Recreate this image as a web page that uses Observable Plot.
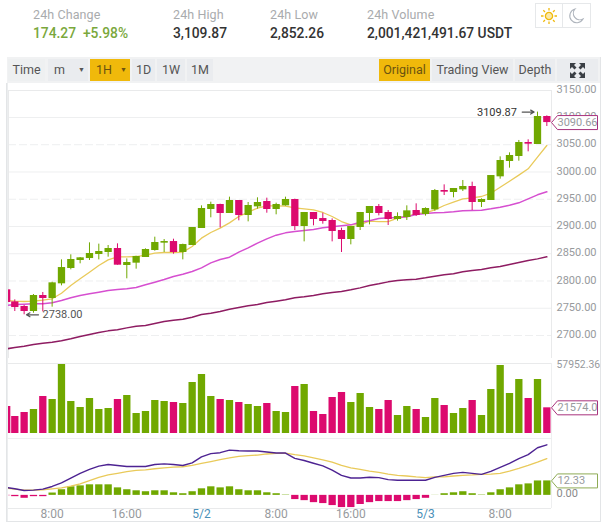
<!DOCTYPE html>
<html>
<head>
<meta charset="utf-8">
<script src="https://cdn.jsdelivr.net/npm/d3@7"></script>
<script src="https://cdn.jsdelivr.net/npm/@observablehq/plot@0.6"></script>
<style>
html,body{margin:0;padding:0;background:#fff;width:609px;height:524px;overflow:hidden}
body{position:relative;font-family:Roboto,"Noto Sans",sans-serif}
.a{position:absolute;white-space:nowrap}
.lbl{font-size:12.5px;color:#a9abad;top:7px;letter-spacing:.1px}
.val{font-size:13.8px;font-weight:500;color:#333;top:25px}
.btn{top:59px;height:22px;line-height:22px;background:#eaecef;color:#555;font-size:12.5px;text-align:center}
.on{background:#f0b90b;color:#6b5310}
.plotbox{position:absolute;left:0}
.plotbox svg{overflow:hidden;display:block}
</style>
</head>
<body>
<div class="a lbl" style="left:33px">24h Change</div>
<div class="a lbl" style="left:173px">24h High</div>
<div class="a lbl" style="left:270px">24h Low</div>
<div class="a lbl" style="left:367px">24h Volume</div>
<div class="a val" style="left:33px;color:#7aa83c">174.27&nbsp; +5.98%</div>
<div class="a val" style="left:173px">3,109.87</div>
<div class="a val" style="left:270px">2,852.26</div>
<div class="a val" style="left:367px">2,001,421,491.67 USDT</div>

<div class="a" style="left:535px;top:3px;width:54px;height:23px;border:1px solid #e6e8ea;box-sizing:content-box"></div>
<div class="a" style="left:562px;top:3px;width:1px;height:24px;background:#e6e8ea"></div>
<svg class="a" style="left:539px;top:6px" width="20" height="20" viewBox="-10 -10 20 20"><g stroke="#f0b90b" stroke-width="1.3"><circle r="3.6" fill="#fbe9a8"/><path d="M0-8V-5.5M0 8V5.5M-8 0H-5.5M8 0H5.5M-5.7-5.7L-4-4M5.7 5.7L4 4M-5.7 5.7L-4 4M5.7-5.7L4-4"/></g></svg>
<svg class="a" style="left:566px;top:6px" width="20" height="20" viewBox="0 0 20 20"><path d="M9 3A7 7 0 1 0 17 13A6.5 6.5 0 0 1 9 3Z" fill="none" stroke="#aeb4bc" stroke-width="1.1"/></svg>

<div id="price" class="plotbox" style="top:72px"></div>
<div id="volume" class="plotbox" style="top:350px"></div>
<div id="macd" class="plotbox" style="top:437px"></div>

<div class="a" style="left:7px;top:57px;width:593px;height:26px;background:#f1f2f3"></div>
<div class="a btn" style="left:8px;width:37px;background:#eef0f1">Time</div>
<div class="a btn" style="left:48px;width:40px;text-align:left"><span style="margin-left:6px">m</span><span style="position:absolute;left:30px;font-size:7px">▼</span></div>
<div class="a btn on" style="left:90px;width:40px;text-align:left"><span style="margin-left:6px">1H</span><span style="position:absolute;left:30px;font-size:7px">▼</span></div>
<div class="a btn" style="left:132px;width:23px">1D</div>
<div class="a btn" style="left:157px;width:28px">1W</div>
<div class="a btn" style="left:187px;width:26px">1M</div>
<div class="a btn on" style="left:379px;width:51px">Original</div>
<div class="a btn" style="left:432px;width:81px">Trading View</div>
<div class="a btn" style="left:515px;width:40px">Depth</div>
<div class="a btn" style="left:557px;width:41px"></div>
<svg class="a" style="left:569px;top:62px" width="17" height="17" viewBox="0 0 17 17"><g fill="#3a3f45"><path d="M1 1h6l-2 2 2.5 2.5-2 2L3 5 1 7zM16 1v6l-2-2-2.5 2.5-2-2L12 3l-2-2zM1 16v-6l2 2 2.5-2.5 2 2L5 14l2 2zM16 16h-6l2-2-2.5-2.5 2-2L14 12l2-2z"/></g></svg>

<script>
// Hourly candles, the first one cut off by the left edge of the chart
const hours = [-0.87,0,1,2,3,4,5,6,7,8,9,10,11,12,13,14,15,16,17,18,19,20,21,22,23,24,25,26,27,28,29,30,31,32,33,34,35,36,37,38,39,40,41,42,43,44,45,46,47,48,49,50,51,52,53,54,55,56,57];
const opens = [2783.8,2761.7,2753.2,2744.0,2773.4,2767.9,2794.8,2822.9,2837.6,2841.2,2848.6,2852.3,2859.6,2828.4,2832.7,2843.1,2855.9,2869.4,2872.4,2852.3,2865.1,2896.3,2931.2,2940.3,2923.8,2947.7,2920.2,2936.0,2945.8,2931.2,2937.9,2949.5,2900.0,2925.7,2914.6,2911.0,2892.6,2876.1,2898.1,2923.8,2936.7,2925.7,2912.8,2916.5,2929.3,2922.0,2930.5,2966.0,2962.4,2967.2,2973.4,2944.0,2947.7,2991.1,3019.2,3028.4,3054.1,3050.4,3101.8];
const closes = [2760.5,2751.3,2744.0,2773.4,2767.9,2796.6,2824.7,2839.4,2842.5,2850.4,2854.1,2859.6,2829.0,2833.9,2844.9,2857.8,2870.6,2872.4,2852.3,2866.9,2898.1,2933.0,2940.3,2923.8,2947.7,2920.2,2938.5,2944.0,2931.2,2940.3,2949.5,2900.0,2925.7,2912.8,2909.1,2890.8,2876.1,2900.0,2925.7,2936.7,2923.8,2912.8,2918.3,2928.7,2920.2,2933.0,2966.0,2963.0,2969.7,2973.4,2944.0,2949.5,2993.5,3021.1,3030.2,3054.1,3051.0,3101.8,3090.66];
const highs = [2785.6,2765.4,2755.0,2775.2,2778.9,2797.8,2838.8,2848.0,2843.1,2870.0,2867.6,2865.1,2868.2,2840.6,2845.5,2859.0,2880.4,2876.1,2876.7,2867.6,2898.1,2937.9,2944.6,2940.9,2953.8,2947.7,2944.0,2952.6,2952.0,2942.8,2953.8,2950.1,2925.7,2925.7,2924.4,2914.0,2896.9,2900.0,2925.7,2936.7,2940.3,2929.3,2925.0,2937.9,2941.6,2934.2,2967.9,2976.4,2969.7,2984.4,2981.3,2950.7,2993.5,3027.8,3035.1,3057.8,3059.0,3109.87,3103.0];
const lows = [2758.1,2744.0,2738.0,2740.9,2743.4,2752.0,2791.1,2820.5,2831.5,2837.6,2838.8,2843.7,2829.0,2804.0,2821.7,2843.1,2854.7,2852.3,2849.2,2838.8,2865.1,2896.3,2915.9,2897.5,2923.8,2910.4,2908.5,2931.8,2924.4,2921.4,2937.3,2892.6,2871.8,2901.2,2904.2,2871.8,2852.26,2866.3,2892.6,2903.0,2919.5,2901.8,2909.8,2911.0,2918.3,2919.0,2928.1,2956.8,2952.6,2964.2,2929.3,2934.8,2947.7,2986.8,3007.0,3019.8,3037.0,3050.4,3083.4];
const ma7 = [2764.2,2763.0,2762.4,2763.0,2764.8,2767.3,2777.6,2791.7,2804.0,2816.2,2828.4,2838.8,2844.3,2844.3,2844.9,2847.4,2851.0,2852.3,2852.3,2852.9,2863.3,2878.6,2889.0,2896.9,2906.7,2918.3,2926.3,2933.6,2937.9,2937.9,2937.3,2934.2,2932.4,2930.5,2925.7,2918.3,2909.1,2903.0,2903.6,2909.8,2909.1,2909.1,2915.3,2918.3,2923.8,2925.0,2930.5,2938.5,2944.6,2950.7,2952.6,2955.0,2961.1,2972.1,2983.1,2994.2,3005.8,3027.3,3048.6];
const ma25 = [2755.0,2756.8,2757.5,2758.1,2758.1,2759.9,2764.2,2769.1,2773.4,2776.4,2779.5,2782.5,2784.4,2785.6,2788.0,2793.0,2797.8,2802.7,2808.2,2812.5,2817.4,2824.1,2833.3,2839.4,2843.7,2852.9,2860.8,2869.4,2877.3,2884.1,2888.3,2890.8,2892.6,2894.5,2897.5,2899.4,2901.2,2903.0,2907.9,2910.4,2914.6,2915.9,2916.5,2917.7,2922.0,2923.8,2925.0,2925.7,2926.9,2928.7,2929.3,2929.9,2932.4,2935.4,2939.1,2943.4,2950.7,2958.1,2963.6];
const ma99 = [2675.5,2678.0,2680.4,2683.5,2685.9,2687.7,2690.2,2693.9,2698.1,2701.8,2705.5,2708.5,2710.4,2714.0,2717.1,2718.3,2722.0,2725.7,2728.1,2730.0,2733.6,2738.5,2741.0,2744.0,2748.3,2751.3,2754.4,2756.8,2760.5,2763.0,2765.4,2769.1,2770.9,2773.4,2776.4,2778.9,2780.7,2783.8,2787.4,2791.7,2794.8,2798.4,2800.9,2802.1,2803.3,2805.8,2808.8,2811.3,2813.1,2816.8,2819.2,2821.1,2824.1,2826.6,2830.2,2833.9,2837.6,2840.6,2844.3];
const volumes = [22680,14280,17640,20160,31080,28560,57952.36,26880,21840,29400,20160,21000,28560,31920,16800,18480,27720,26880,26040,25200,42840,49560,31080,28560,27720,26040,24360,22680,25200,18480,17640,39480,41160,18480,15960,30240,34440,26040,33600,21840,20160,27720,15120,22680,20160,13440,29400,23520,16800,21000,27720,15120,36960,57120,33600,45360,29400,45360,21574];
const dif = [6.7,5.6,4.2,4.5,5.3,7.6,10.6,14.8,18.8,22.1,24.9,26.3,25.5,24.6,24.6,24.6,26.3,26.9,26.3,25.5,27.7,32.8,35.6,36.4,38.6,38.1,37.8,37.8,37.0,36.1,36.1,31.6,29.7,27.4,25.2,21.6,17.1,14.8,14.8,15.4,15.1,13.4,12.9,12.9,12.9,12.9,15.4,17.1,18.8,19.6,18.8,17.9,20.4,23.8,27.2,31.4,34.7,40.6,43.1];
const dea = [6.2,5.3,4.5,4.5,4.8,5.6,6.4,7.8,9.8,12.6,15.4,17.4,18.8,20.2,21.3,21.8,22.7,23.5,24.1,24.4,25.5,27.2,28.8,30.5,31.9,33.3,33.9,34.4,35.3,35.8,36.1,34.7,33.6,31.9,30.2,28.3,25.5,23.5,22.1,20.7,19.6,18.2,17.1,16.5,15.7,15.1,15.7,15.7,16.5,17.1,17.4,17.9,18.2,18.8,20.7,23.0,25.5,28.3,31.4];
const macdHist = [-0.3,-1.1,-2.5,-1.1,-1.1,2.0,4.8,7.3,8.1,9.0,9.0,9.0,6.4,4.8,3.9,3.1,3.9,3.9,2.2,1.4,3.1,5.6,7.3,6.4,7.3,4.8,3.9,3.9,2.2,1.4,0.3,-3.6,-4.5,-6.2,-7.0,-8.7,-10.4,-10.4,-7.8,-6.2,-5.3,-5.3,-5.3,-4.5,-3.6,-2.5,0.1,1.4,2.2,3.1,1.4,0.3,2.2,4.8,6.4,9.0,9.8,12.3,12.33];
const priceTicks = [2700,2750,2800,2850,2900,2950,3000,3050,3100,3150];
const solidGrid = [2750,2850,2900,3000,3100];
const dashedGrid = [2700,2800,2950,3050];
const timeTicks = [4,12,20,28,36,44,52];
const timeLabels = ["8:00","16:00","5/2","8:00","16:00","5/3","8:00"];

const UP = "#70a800", DOWN = "#dc0a6e", GRID = "#eeeff0", AXIS = "#979a9d";
const MAGENTA_TAG = "#a8327c", GREEN_TAG = "#8fab55";
const candles = hours.map((h,i)=>({h,o:opens[i],c:closes[i],hi:highs[i],lo:lows[i],v:volumes[i],m:macdHist[i],
  col:closes[i]>=opens[i]?UP:DOWN}));
const xDomain = [-0.675,57.5];
const tag = {draw(ctx){ctx.moveTo(0,0);ctx.lineTo(6,-7);ctx.lineTo(46,-7);ctx.lineTo(46,7);ctx.lineTo(6,7);ctx.closePath();}};
const wid = 7.3;
function tagMarks(value,label,stroke){
  return [
    Plot.dot([value],{y:d=>d,frameAnchor:"right",symbol:tag,fill:"#fff",stroke,strokeWidth:1,clip:false}),
    Plot.text([value],{y:d=>d,text:()=>label,frameAnchor:"right",textAnchor:"start",dx:6,fill:AXIS})
  ];
}
function panel(sel,h,top,bottom,yDomain,marks){
  const p = Plot.plot({width:600,height:h,marginLeft:8,marginRight:49,marginTop:top,marginBottom:bottom,
    style:{fontFamily:"Roboto,sans-serif",fontSize:"11px",background:"transparent"},
    x:{type:"linear",domain:xDomain,axis:null},
    y:{domain:yDomain,axis:null},marks});
  document.querySelector(sel).appendChild(p);
}
const line = (ys,stroke,strokeWidth)=>Plot.line(hours,{x:d=>d,y:(d,i)=>ys[i],stroke,strokeWidth,clip:"frame"});

panel("#price",286,18,0,[2657.8,3149.5],[
  Plot.gridY(solidGrid,{stroke:GRID,strokeOpacity:1}),
  Plot.gridY(dashedGrid,{stroke:GRID,strokeOpacity:1,strokeDasharray:"8,3"}),
  Plot.frame({stroke:"#e9eaeb"}),
  line(ma7,"#e9ca5a",1.3),line(ma25,"#d64fd0",1.5),line(ma99,"#8e1c62",1.5),
  Plot.ruleX(candles,{x:"h",y1:"lo",y2:"hi",stroke:"col",strokeWidth:1,clip:"frame"}),
  Plot.ruleX(candles,{x:"h",y1:"o",y2:"c",stroke:"col",strokeWidth:wid,clip:"frame"}),
  Plot.axisY(priceTicks,{anchor:"right",tickSize:0,tickPadding:5,tickFormat:d=>d.toFixed(2),color:AXIS,label:null,dy:-1}),
  ...tagMarks(3090.66,"3090.66",MAGENTA_TAG),
  Plot.arrow([0],{x1:()=>54.36,x2:()=>55.64,y1:()=>3109.87,y2:()=>3109.87,stroke:"#555",strokeWidth:1.2,headLength:7,bend:false}),
  Plot.text(["3109.87"],{x:()=>53.8,y:()=>3109.87,textAnchor:"end",fill:"#333"}),
  Plot.arrow([0],{x1:()=>2.54,x2:()=>1.25,y1:()=>2738,y2:()=>2738,stroke:"#555",strokeWidth:1.2,headLength:7,bend:false}),
  Plot.text(["2738.00"],{x:()=>2.97,y:()=>2738,textAnchor:"start",fill:"#555"})
]);

panel("#volume",88,13,0,[-4200,58800],[
  Plot.ruleY([58800],{stroke:"#e9eaeb"}),
  Plot.ruleX(candles,{x:"h",y1:()=>0,y2:"v",stroke:"col",strokeWidth:wid,clip:"frame"}),
  Plot.text([57952.36],{y:d=>d,text:d=>d.toFixed(2),frameAnchor:"right",textAnchor:"start",dx:5,fill:AXIS,fontSize:10.4}),
  Plot.ruleX([57.5],{stroke:"#eeeff0"}),
  ...tagMarks(21574,"21574.0",MAGENTA_TAG)
]);

const macdTicks = timeTicks.map((t,i)=>({t,label:timeLabels[i]}));
panel("#macd",85,1,14,[-11.2,48.5],[
  Plot.ruleY([48.5],{stroke:"#eeeff0"}),
  Plot.ruleY([-11.2],{stroke:"#e9eaeb"}),
  Plot.ruleX([57.5],{stroke:"#eeeff0"}),
  Plot.ruleX(candles,{x:"h",y1:()=>0,y2:"m",stroke:d=>d.m>=0?UP:DOWN,strokeWidth:wid,clip:"frame"}),
  line(dea,"#e9ca5a",1.3),line(dif,"#4d2392",1.4),
  Plot.text(macdTicks,{x:"t",text:"label",frameAnchor:"bottom",lineAnchor:"middle",dy:6,fill:d=>d.label.includes("/")?"#4a90b8":AXIS,fontSize:12}),
  Plot.text([0],{y:d=>d,text:d=>d.toFixed(2),frameAnchor:"right",textAnchor:"start",dx:5,dy:-2,fill:"#888"}),
  ...tagMarks(12.33,"12.33",GREEN_TAG)
]);
</script>
<div class="a" style="left:6px;top:83px;width:1px;height:439px;background:#e3e5e7"></div>
<div class="a" style="left:7px;top:83px;width:1px;height:439px;background:#eceeef"></div>
<div class="a" style="left:600px;top:57px;width:1px;height:465px;background:#e3e5e7"></div>
<div class="a" style="left:7px;top:521px;width:594px;height:1px;background:#e3e5e7"></div>
</body>
</html>
